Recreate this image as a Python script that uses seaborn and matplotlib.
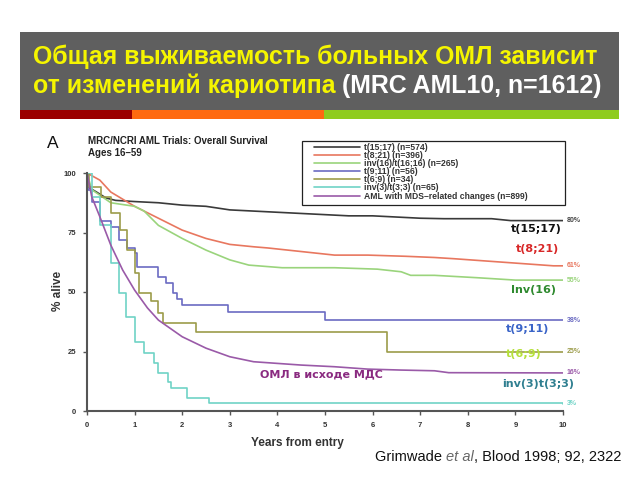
import matplotlib
matplotlib.use("Agg")
import matplotlib.pyplot as plt
from matplotlib.patches import Rectangle
import seaborn as sns
import pandas as pd

# ---------------- data ----------------
groups = ["t(15;17) (n=574)", "t(8;21) (n=396)", "inv(16)/t(16;16) (n=265)",
          "t(9;11) (n=56)", "t(6;9) (n=34)", "inv(3)/t(3;3) (n=65)",
          "AML with MDS\u2013related changes (n=899)"]
colors = ["#3a3a3a", "#e8775f", "#9ad47c", "#6b6bc2", "#9c9c4a", "#6fd3c6", "#9a5aa8"]

t1517_x = [0, 0.03, 0.2, 0.4, 0.6, 1.0, 1.5, 2.0, 2.5, 3.0, 3.5, 4.0, 4.5, 5.0, 5.5, 6.0, 6.5, 7.0, 7.5, 8.5, 8.9, 10]
t1517_y = [100, 94, 92, 89.5, 88.5, 88, 87.5, 86.5, 86, 84.5, 84, 83.5, 83, 82.5, 82, 82, 81.5, 81, 80.8, 80.8, 80, 80]

t821_x = [0, 0.27, 0.5, 1.0, 1.5, 2.0, 2.5, 3.0, 3.5, 3.8, 4.5, 5.2, 5.9, 6.7, 7.3, 7.7, 8.4, 9.1, 9.8, 10]
t821_y = [100, 97, 92, 86, 81, 76, 72.5, 70, 69, 68.5, 67, 65.5, 65.5, 65, 64.5, 64, 63, 62, 61, 61]

inv16_x = [0, 0.1, 0.5, 1.0, 1.2, 1.5, 2.0, 2.5, 3.0, 3.4, 4.1, 5.2, 6.1, 6.6, 6.8, 7.3, 8.2, 9.0, 10]
inv16_y = [100, 93, 87.5, 86, 84, 78, 72.5, 67.6, 63.5, 61.3, 60.2, 60.2, 59.6, 58.5, 57, 57, 56, 55, 55]

t911_x = [0, 0.02, 0.1, 0.27, 0.5, 0.68, 0.85, 1.0, 1.05, 1.5, 1.66, 1.8, 1.9, 2.0, 2.97, 5.0, 10]
t911_y = [100, 93, 88, 80, 77.5, 72, 68.5, 66.3, 60.6, 56.4, 53.8, 49.6, 47, 44.5, 41.4, 38.2, 38.2]

t69_x = [0, 0.05, 0.3, 0.5, 0.7, 0.85, 1.0, 1.1, 1.35, 1.5, 1.6, 2.28, 6.3, 10]
t69_y = [100, 94, 90, 83, 76, 67.6, 58, 49.6, 46.3, 41, 37, 33.2, 24.6, 24.6]

inv3_x = [0, 0.1, 0.27, 0.5, 0.68, 0.82, 1.0, 1.2, 1.4, 1.5, 1.7, 1.77, 2.1, 2.56, 10]
inv3_y = [100, 90, 78, 62, 49.6, 39.6, 29, 24.3, 20, 16, 12.3, 9.6, 5.5, 3.4, 3.0]

mds_x = [0, 0.1, 0.27, 0.5, 0.75, 1.0, 1.27, 1.5, 2.0, 2.5, 3.0, 3.5, 4.5, 5.2, 5.9, 6.6, 7.3, 7.6, 10]
mds_y = [100, 90, 81.6, 69.7, 59.2, 50.8, 43.3, 38.2, 31.2, 26.4, 22.8, 20.7, 19.3, 18.6, 17.6, 17.2, 16.9, 16.1, 16]

curves_x = [t1517_x, t821_x, inv16_x, t911_x, t69_x, inv3_x, mds_x]
curves_y = [t1517_y, t821_y, inv16_y, t911_y, t69_y, inv3_y, mds_y]
stepped = [False, False, False, True, True, True, False]

end_labels = ["80%", "61%", "55%", "38%", "25%", "16%", "3%"]
end_values = [80, 61, 55, 38, 25, 16, 3]
end_colors = ["#444444", "#e8775f", "#9ad47c", "#6b6bc2", "#9c9c4a", "#9a5aa8", "#6fd3c6"]

ann_texts = ["t(15;17)", "t(8;21)", "Inv(16)", "t(9;11)", "t(6;9)", "inv(3)t(3;3)", "\u041e\u041c\u041b \u0432 \u0438\u0441\u0445\u043e\u0434\u0435 \u041c\u0414\u0421"]
ann_x = [9.44, 9.46, 9.39, 9.25, 9.18, 9.47, 4.93]
ann_y = [76.5, 68.0, 50.8, 34.5, 24.0, 11.3, 15.5]
ann_colors = ["#111111", "#d82828", "#2f8a2f", "#3a64c8", "#b5e03a", "#2f7f90", "#8a2a80"]

xticks = list(range(0, 11))
yticks = [0, 25, 50, 75, 100]

# ---------------- figure ----------------
sns.set_theme(style="white")
plt.rcParams["font.family"] = ["Liberation Sans", "DejaVu Sans"]

W, H = 640, 480
fig = plt.figure(figsize=(6.4, 4.8), dpi=100)

def fx(px):
    return px / W

def fy(py):
    return 1 - py / H

# title block
fig.patches.append(Rectangle((fx(20), fy(110)), fx(619) - fx(20), fy(32) - fy(110),
                             transform=fig.transFigure, facecolor="#5f5f5f", edgecolor="none"))
for x0, x1, c in [(20, 132, "#9b0000"), (132, 324, "#ff6a10"), (324, 619, "#8fcc1e")]:
    fig.patches.append(Rectangle((fx(x0), fy(119)), fx(x1) - fx(x0), fy(110) - fy(119),
                                 transform=fig.transFigure, facecolor=c, edgecolor="none"))

tfs = 17.9
fig.text(fx(33), fy(57), "\u041e\u0431\u0449\u0430\u044f \u0432\u044b\u0436\u0438\u0432\u0430\u0435\u043c\u043e\u0441\u0442\u044c \u0431\u043e\u043b\u044c\u043d\u044b\u0445 \u041e\u041c\u041b \u0437\u0430\u0432\u0438\u0441\u0438\u0442",
         color="#f5f500", fontsize=tfs, fontweight="bold", ha="left", va="center")
t2 = fig.text(fx(33), fy(86), "\u043e\u0442 \u0438\u0437\u043c\u0435\u043d\u0435\u043d\u0438\u0439 \u043a\u0430\u0440\u0438\u043e\u0442\u0438\u043f\u0430 ",
              color="#f5f500", fontsize=tfs, fontweight="bold", ha="left", va="center")
fig.canvas.draw()
bb = t2.get_window_extent()
fig.text(bb.x1 / W, fy(86), "(MRC AML10, n=1612)", color="white", fontsize=tfs,
         fontweight="bold", ha="left", va="center")

# chart axes
ax = fig.add_axes([fx(87), fy(411), fx(563) - fx(87), fy(173) - fy(411)])

for xs, ys, lab, col, st in zip(curves_x, curves_y, groups, colors, stepped):
    df = pd.DataFrame({"years": xs, "pct": ys})
    sns.lineplot(data=df, x="years", y="pct", ax=ax, color=col, linewidth=1.2,
                 estimator=None, sort=False, label=lab,
                 drawstyle="steps-post" if st else "default")

ax.set_xlim(0, 10)
ax.set_ylim(0, 100)
ax.set_xticks(xticks)
ax.set_yticks(yticks)
ax.set_xticklabels([str(v) for v in xticks], fontsize=5.5, fontweight="bold", color="#333333")
ax.set_yticklabels([str(v) for v in yticks], fontsize=5.5, fontweight="bold", color="#333333")
ax.tick_params(axis="both", direction="out", length=3, width=1, color="#555555", pad=5,
               bottom=True, left=True)
for s in ["top", "right"]:
    ax.spines[s].set_visible(False)
for s in ["left", "bottom"]:
    ax.spines[s].set_color("#555555")
    ax.spines[s].set_linewidth(1.5)
ax.set_xlabel("")
ax.set_ylabel("")
ax.patch.set_alpha(0)

fig.text(fx(58), fy(291), "% alive", rotation=90, fontsize=8.5, fontweight="bold",
         color="#333333", ha="center", va="center")
fig.text(fx(297), fy(443), "Years from entry", fontsize=8.5, fontweight="bold",
         color="#333333", ha="center", va="center")

# end percentages
for lab, v, c in zip(end_labels, end_values, end_colors):
    ax.text(10.08, v, lab, fontsize=5, fontweight="bold", color=c, ha="left", va="center",
            clip_on=False)

# annotations
for tx, x, y, c in zip(ann_texts, ann_x, ann_y, ann_colors):
    ax.text(x, y, tx, fontsize=8, fontweight="bold", color=c, ha="center", va="center",
            family=["DejaVu Sans"])

# legend with its frame box
box = Rectangle((fx(302), fy(205)), fx(565) - fx(302), fy(141) - fy(205),
                transform=fig.transFigure, facecolor="white", edgecolor="#222222",
                linewidth=0.9, zorder=5, clip_on=False)
ax.add_patch(box)
leg = ax.legend(loc="upper left", bbox_to_anchor=(fx(312), fy(141)),
                bbox_transform=fig.transFigure, frameon=False,
                prop={"size": 6.2, "weight": "bold"},
                handlelength=5.4, handletextpad=0.4, labelspacing=-0.1, borderpad=0.2,
                borderaxespad=0)
for t in leg.get_texts():
    t.set_color("#333333")
leg.set_zorder(6)

# chart header
fig.text(fx(47), fy(144), "A", fontsize=12.5, color="#111111", ha="left", va="center")
fig.text(fx(88), fy(141), "MRC/NCRI AML Trials: Overall Survival", fontsize=7,
         fontweight="bold", color="#222222", ha="left", va="center")
fig.text(fx(88), fy(153), "Ages 16\u201359", fontsize=7, fontweight="bold",
         color="#222222", ha="left", va="center")

# citation
cfs = 10.5
fig.text(fx(375), fy(457), "Grimwade ", fontsize=cfs, color="#111111", ha="left", va="center")
fig.canvas.draw()
c1 = fig.texts[-1].get_window_extent()
fig.text(c1.x1 / W, fy(457), "et al", fontsize=cfs, style="italic", color="#666666",
         ha="left", va="center")
fig.canvas.draw()
c2 = fig.texts[-1].get_window_extent()
fig.text(c2.x1 / W, fy(457), ", Blood 1998; 92, 2322", fontsize=cfs, color="#111111",
         ha="left", va="center")

fig.savefig("out.png", dpi=100)
